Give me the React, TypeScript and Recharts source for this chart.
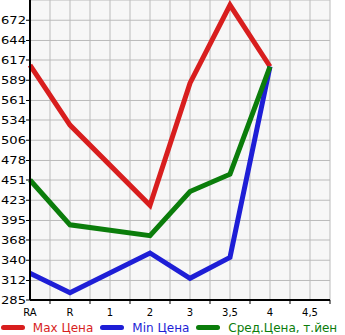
import React from 'react'
import { LineChart, CartesianGrid, XAxis, YAxis, Legend, Line } from 'recharts'

const categories = ['RA', 'R', '1', '2', '3', '3,5', '4', '4,5']
const maxPrice = [610, 527, null, 416, 585, 693, 608, null]
const minPrice = [322, 295, null, 350, 315, 344, 608, null]
const avgPrice = [451, 389, null, 374, 435, 459, 608, null]
const yTicks = [285, 312, 340, 368, 395, 423, 451, 478, 506, 534, 561, 589, 617, 644, 672]
const xTicks = [0, 0.5, 1, 1.5, 2, 2.5, 3, 3.5, 4, 4.5, 5, 5.5, 6, 6.5, 7, 7.5]

const data = categories.map((c, i) => ({
    x: i,
    max: maxPrice[i],
    min: minPrice[i],
    avg: avgPrice[i],
}))

const series = [
    { key: 'max', name: 'Max Цена', color: '#d81e1e' },
    { key: 'min', name: 'Min Цена', color: '#1e1ed6' },
    { key: 'avg', name: 'Сред.Цена, т.йен', color: '#0b7d0b' },
]

const font = '"DejaVu Sans", sans-serif'

function XTick(props: any) {
    const { x, y, payload } = props
    const v = payload.value
    if (Number.isInteger(v)) {
        return (
            <text x={x} y={y + 16} textAnchor="middle" fontSize={10} fontFamily={font} fill="#000">
                {categories[v]}
            </text>
        )
    }
    return <line x1={x} x2={x} y1={y} y2={y + 4} stroke="#000" strokeWidth={1} />
}

function YTick(props: any) {
    const { y, payload } = props
    return (
        <text x={1} y={y + 4} textAnchor="start" fontSize={10} fontFamily={font} fill="#000"
            textLength={25} lengthAdjust="spacingAndGlyphs">
            {payload.value}
        </text>
    )
}

function LegendContent() {
    return (
        <div style={{ display: 'flex', justifyContent: 'center', alignItems: 'center', height: 15, whiteSpace: 'nowrap', fontFamily: font, fontSize: 12 }}>
            {series.map(s => (
                <div key={s.key} style={{ display: 'flex', alignItems: 'center', flexShrink: 0, marginRight: 7 }}>
                    <span style={{ display: 'inline-block', width: 24, height: 5, borderRadius: 3, background: s.color, marginRight: 8 }} />
                    <span style={{ color: s.color }}>{s.name}</span>
                </div>
            ))}
        </div>
    )
}

export default function App() {
    return (
        <div style={{ width: 345, height: 335, position: 'relative' }}>
            <style>{'body { margin: 0; overflow: hidden; }'}</style>
            <LineChart width={345} height={335} data={data}
                margin={{ top: 0, right: 15, left: 0, bottom: 0 }}
            >
                <CartesianGrid stroke="#bbbbbb" fill="#f7f7f7" />
                <XAxis
                    dataKey="x"
                    type="number"
                    domain={[0, 7.5]}
                    ticks={xTicks}
                    interval={0}
                    height={20}
                    tickLine={false}
                    tickSize={0}
                    tickMargin={0}
                    axisLine={{ stroke: '#000', strokeWidth: 2 }}
                    tick={<XTick />}
                />
                <YAxis
                    type="number"
                    domain={[285, 700]}
                    ticks={yTicks}
                    interval={0}
                    width={30}
                    tickSize={4}
                    tickLine={{ stroke: '#000' }}
                    axisLine={{ stroke: '#000', strokeWidth: 2 }}
                    tick={<YTick />}
                />
                <Legend verticalAlign="bottom" height={15} content={<LegendContent />}
                    wrapperStyle={{ top: 320, left: 0, width: 345, height: 15 }} />
                {series.map(s => (
                    <Line key={s.key} type="linear" dataKey={s.key} name={s.name} stroke={s.color}
                        strokeWidth={5} dot={false} connectNulls isAnimationActive={false} />
                ))}
            </LineChart>
        </div>
    )
}
